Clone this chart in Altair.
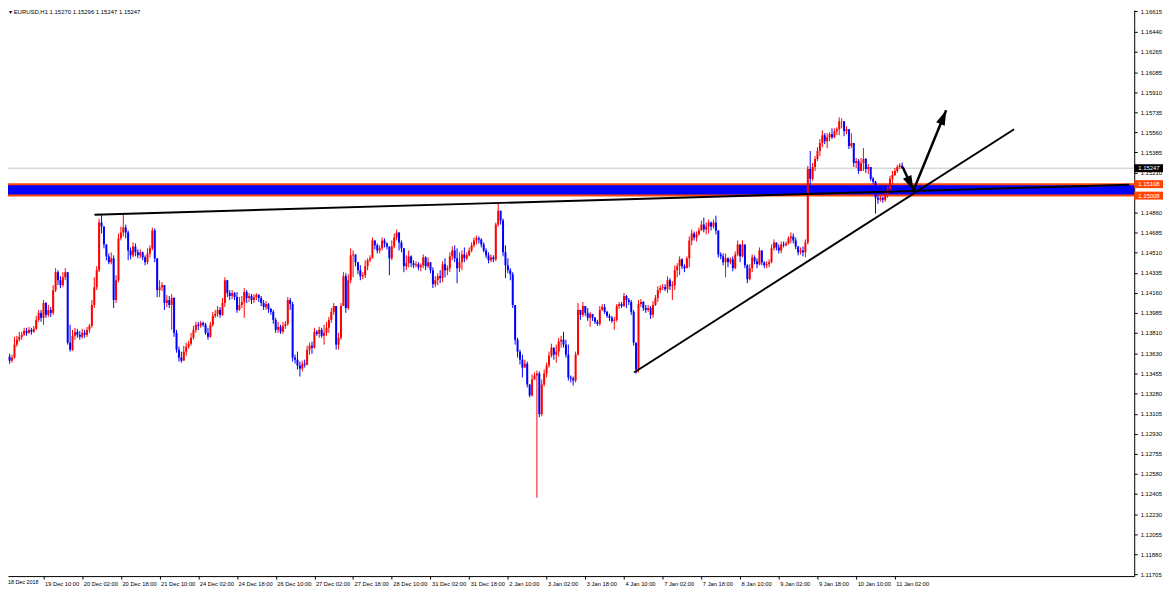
import math
import altair as alt
import pandas as pd

# ---------------- data (EURUSD H1) ----------------
open0 = 1.13725
close = [
 1.13577,1.13603,1.13568,1.13595,1.13708,1.13751,1.13776,1.13794,1.13828,1.13811,  # 0
 1.13837,1.13820,1.13846,1.13924,1.13985,1.13942,1.14071,1.13968,1.14011,1.13985,  # 10
 1.14184,1.14340,1.14270,1.14227,1.14296,1.14340,1.13725,1.13664,1.13785,1.13820,  # 20
 1.13794,1.13776,1.13811,1.13794,1.13837,1.13872,1.14054,1.14209,1.14357,1.14773,  # 30
 1.14738,1.14582,1.14478,1.14427,1.14461,1.14097,1.14270,1.14635,1.14687,1.14729,  # 40
 1.14687,1.14530,1.14487,1.14565,1.14513,1.14487,1.14513,1.14469,1.14427,1.14504,  # 50
 1.14548,1.14704,1.14461,1.14184,1.14209,1.14227,1.14071,1.14097,1.14054,1.14115,  # 60
 1.13811,1.13664,1.13595,1.13568,1.13647,1.13690,1.13716,1.13768,1.13837,1.13881,  # 70
 1.13872,1.13898,1.13881,1.13811,1.13776,1.13881,1.13959,1.13976,1.14011,1.13968,  # 80
 1.14071,1.14270,1.14158,1.14132,1.14158,1.14123,1.14011,1.14054,1.14080,1.14167,  # 90
 1.14115,1.14132,1.14097,1.14123,1.14141,1.14115,1.14071,1.14036,1.14062,1.14019,  # 100
 1.13994,1.13924,1.13837,1.13863,1.13820,1.13872,1.13889,1.14097,1.14062,1.13595,  # 110
 1.13577,1.13525,1.13499,1.13542,1.13534,1.13664,1.13699,1.13682,1.13820,1.13802,  # 120
 1.13837,1.13785,1.13811,1.13855,1.13924,1.13994,1.14045,1.13708,1.13768,1.14045,  # 130
 1.14305,1.14028,1.14270,1.14487,1.14495,1.14427,1.14357,1.14305,1.14314,1.14392,  # 140
 1.14444,1.14461,1.14617,1.14574,1.14530,1.14548,1.14617,1.14591,1.14565,1.14461,  # 150
 1.14565,1.14643,1.14687,1.14600,1.14548,1.14392,1.14418,1.14478,1.14418,1.14400,  # 160
 1.14409,1.14383,1.14400,1.14469,1.14392,1.14427,1.14357,1.14235,1.14270,1.14305,  # 170
 1.14288,1.14409,1.14357,1.14375,1.14478,1.14530,1.14461,1.14375,1.14427,1.14495,  # 180
 1.14461,1.14487,1.14530,1.14574,1.14617,1.14635,1.14626,1.14582,1.14530,1.14487,  # 190
 1.14444,1.14469,1.14452,1.14755,1.14877,1.14790,1.14513,1.14400,1.14357,1.14322,  # 200
 1.14054,1.13751,1.13647,1.13577,1.13508,1.13542,1.13361,1.13265,1.13404,1.13439,  # 210
 1.13456,1.13101,1.13361,1.13456,1.13525,1.13612,1.13682,1.13621,1.13647,1.13734,  # 220
 1.13751,1.13708,1.13621,1.13422,1.13413,1.13395,1.13621,1.14011,1.13968,1.14045,  # 230
 1.13985,1.13942,1.13976,1.13942,1.13907,1.13889,1.14011,1.14036,1.13994,1.13959,  # 240
 1.13942,1.13915,1.13924,1.14045,1.14062,1.14045,1.14132,1.14097,1.14080,1.13994,  # 250
 1.13725,1.13491,1.14062,1.14080,1.14028,1.14011,1.14028,1.13968,1.14054,1.14115,  # 260
 1.14184,1.14201,1.14209,1.14192,1.14270,1.14218,1.14227,1.14357,1.14392,1.14452,  # 270
 1.14392,1.14375,1.14461,1.14617,1.14678,1.14643,1.14669,1.14704,1.14755,1.14712,  # 280
 1.14738,1.14773,1.14738,1.14773,1.14704,1.14495,1.14478,1.14427,1.14461,1.14427,  # 290
 1.14452,1.14375,1.14495,1.14582,1.14478,1.14582,1.14400,1.14279,1.14375,1.14469,  # 300
 1.14435,1.14409,1.14530,1.14427,1.14400,1.14409,1.14427,1.14548,1.14600,1.14556,  # 310
 1.14530,1.14582,1.14574,1.14591,1.14635,1.14652,1.14617,1.14565,1.14513,1.14530,  # 320
 1.14513,1.14600,1.15241,1.15154,1.15258,1.15328,1.15397,1.15466,1.15535,1.15483,  # 330
 1.15518,1.15544,1.15518,1.15570,1.15587,1.15656,1.15656,1.15570,1.15587,1.15440,  # 340
 1.15466,1.15293,1.15310,1.15223,1.15293,1.15328,1.15241,1.15258,1.15154,1.15128,  # 350
 1.14989,1.14972,1.14989,1.14972,1.15024,1.15067,1.15154,1.15188,1.15223,1.15258,  # 360
 1.15270,1.15247,                                                                  # 370
]
high = [
 1.13742,1.13638,1.13629,1.13621,1.13776,1.13785,1.13820,1.13820,1.13855,1.13855,
 1.13863,1.13855,1.13872,1.13959,1.14011,1.14011,1.14097,1.14080,1.14054,1.14036,
 1.14227,1.14375,1.14357,1.14305,1.14340,1.14375,1.14340,1.13881,1.13837,1.13855,
 1.13846,1.13828,1.13846,1.13837,1.13863,1.13889,1.14097,1.14296,1.14392,1.14808,
 1.14842,1.14721,1.14574,1.14504,1.14513,1.14487,1.14314,1.14678,1.14738,1.14851,
 1.14755,1.14704,1.14556,1.14600,1.14591,1.14539,1.14539,1.14521,1.14487,1.14548,
 1.14574,1.14729,1.14721,1.14461,1.14270,1.14253,1.14209,1.14141,1.14132,1.14149,
 1.14123,1.13837,1.13690,1.13647,1.13699,1.13725,1.13742,1.13811,1.13872,1.13907,
 1.13907,1.13915,1.13907,1.13898,1.13855,1.13907,1.13994,1.14011,1.14045,1.14036,
 1.14115,1.14296,1.14270,1.14184,1.14184,1.14167,1.14167,1.14123,1.14132,1.14201,
 1.14184,1.14158,1.14149,1.14149,1.14158,1.14149,1.14132,1.14097,1.14088,1.14071,
 1.14028,1.14011,1.13942,1.13907,1.13881,1.13907,1.13915,1.14123,1.14115,1.14080,
 1.13621,1.13647,1.13560,1.13568,1.13577,1.13699,1.13725,1.13734,1.13855,1.13837,
 1.13863,1.13855,1.13881,1.13907,1.13950,1.14028,1.14071,1.14045,1.13811,1.14071,
 1.14340,1.14331,1.14322,1.14548,1.14530,1.14487,1.14427,1.14400,1.14340,1.14444,
 1.14461,1.14487,1.14643,1.14617,1.14591,1.14574,1.14643,1.14635,1.14600,1.14565,
 1.14617,1.14678,1.14712,1.14687,1.14617,1.14548,1.14487,1.14530,1.14487,1.14444,
 1.14435,1.14427,1.14418,1.14495,1.14478,1.14469,1.14427,1.14383,1.14305,1.14331,
 1.14357,1.14435,1.14461,1.14400,1.14513,1.14565,1.14574,1.14548,1.14513,1.14530,
 1.14556,1.14513,1.14556,1.14600,1.14643,1.14660,1.14652,1.14635,1.14600,1.14548,
 1.14513,1.14495,1.14487,1.14773,1.14937,1.14860,1.14808,1.14574,1.14461,1.14375,
 1.14340,1.14054,1.13768,1.13664,1.13621,1.13577,1.13560,1.13361,1.13448,1.13465,
 1.13482,1.13474,1.13404,1.13491,1.13551,1.13647,1.13716,1.13682,1.13708,1.13768,
 1.13785,1.13820,1.13751,1.13708,1.13439,1.13430,1.13647,1.14071,1.13994,1.14080,
 1.14028,1.14028,1.13994,1.13976,1.13950,1.13924,1.14045,1.14062,1.14062,1.14002,
 1.13976,1.13959,1.13950,1.14062,1.14080,1.14080,1.14158,1.14141,1.14115,1.14097,
 1.14011,1.13725,1.14097,1.14106,1.14088,1.14054,1.14054,1.14045,1.14088,1.14141,
 1.14218,1.14227,1.14235,1.14235,1.14305,1.14288,1.14262,1.14400,1.14418,1.14478,
 1.14461,1.14409,1.14478,1.14652,1.14712,1.14695,1.14695,1.14729,1.14790,1.14816,
 1.14773,1.14799,1.14781,1.14799,1.14833,1.14704,1.14513,1.14504,1.14504,1.14469,
 1.14469,1.14478,1.14521,1.14617,1.14530,1.14617,1.14530,1.14409,1.14409,1.14495,
 1.14487,1.14461,1.14556,1.14530,1.14435,1.14435,1.14452,1.14582,1.14626,1.14600,
 1.14582,1.14608,1.14608,1.14608,1.14652,1.14687,1.14678,1.14643,1.14565,1.14556,
 1.14565,1.14626,1.15267,1.15397,1.15293,1.15353,1.15431,1.15501,1.15578,1.15553,
 1.15553,1.15561,1.15595,1.15595,1.15604,1.15691,1.15682,1.15647,1.15613,1.15587,
 1.15553,1.15440,1.15336,1.15328,1.15336,1.15422,1.15336,1.15284,1.15258,1.15171,
 1.15137,1.15015,1.15015,1.14998,1.15050,1.15093,1.15180,1.15223,1.15249,1.15275,
 1.15290,1.15296,
]
low = [
 1.13534,1.13551,1.13542,1.13551,1.13586,1.13690,1.13734,1.13751,1.13785,1.13785,
 1.13802,1.13794,1.13811,1.13837,1.13907,1.13907,1.13881,1.13942,1.13950,1.13950,
 1.13968,1.14167,1.14227,1.14201,1.14209,1.14270,1.13708,1.13647,1.13655,1.13751,
 1.13768,1.13751,1.13759,1.13768,1.13776,1.13811,1.13855,1.14028,1.14184,1.14340,
 1.14678,1.14548,1.14444,1.14409,1.14409,1.14028,1.14071,1.14253,1.14617,1.14652,
 1.14635,1.14444,1.14452,1.14469,1.14478,1.14461,1.14461,1.14444,1.14400,1.14409,
 1.14469,1.14530,1.14427,1.14123,1.14123,1.14175,1.14011,1.14036,1.14028,1.13837,
 1.13776,1.13638,1.13560,1.13551,1.13577,1.13612,1.13673,1.13699,1.13751,1.13811,
 1.13837,1.13855,1.13863,1.13794,1.13751,1.13768,1.13863,1.13942,1.13950,1.13942,
 1.13959,1.14036,1.14123,1.14097,1.14106,1.14097,1.13985,1.14002,1.14028,1.13942,
 1.14071,1.14080,1.14062,1.14071,1.14097,1.14080,1.14045,1.14011,1.14011,1.13985,
 1.13968,1.13889,1.13811,1.13811,1.13802,1.13802,1.13846,1.13872,1.14011,1.13560,
 1.13542,1.13491,1.13430,1.13474,1.13508,1.13525,1.13621,1.13629,1.13673,1.13785,
 1.13768,1.13768,1.13708,1.13785,1.13811,1.13898,1.13968,1.13664,1.13664,1.13751,
 1.14045,1.13985,1.14011,1.14244,1.14296,1.14392,1.14322,1.14270,1.14279,1.14288,
 1.14357,1.14427,1.14461,1.14539,1.14504,1.14504,1.14530,1.14556,1.14539,1.14314,
 1.14444,1.14548,1.14617,1.14530,1.14513,1.14340,1.14357,1.14383,1.14383,1.14375,
 1.14383,1.14357,1.14348,1.14375,1.14357,1.14375,1.14331,1.14201,1.14209,1.14227,
 1.14244,1.14253,1.14296,1.14314,1.14340,1.14444,1.14427,1.14244,1.14340,1.14357,
 1.14427,1.14444,1.14478,1.14513,1.14556,1.14582,1.14591,1.14556,1.14513,1.14461,
 1.14418,1.14427,1.14427,1.14435,1.14738,1.14755,1.14478,1.14288,1.14331,1.14270,
 1.14028,1.13708,1.13595,1.13534,1.13422,1.13508,1.13335,1.13248,1.13256,1.13404,
 1.12373,1.13075,1.13083,1.13344,1.13422,1.13508,1.13595,1.13577,1.13551,1.13603,
 1.13682,1.13682,1.13595,1.13395,1.13378,1.13352,1.13378,1.13612,1.13924,1.13950,
 1.13959,1.13915,1.13863,1.13915,1.13889,1.13872,1.13872,1.14002,1.13976,1.13942,
 1.13915,1.13898,1.13837,1.13907,1.14019,1.14028,1.14036,1.14028,1.14054,1.13968,
 1.13699,1.13456,1.13465,1.14036,1.14002,1.13985,1.13994,1.13933,1.13942,1.14045,
 1.14080,1.14158,1.14184,1.14175,1.14158,1.14184,1.14097,1.14184,1.14296,1.14314,
 1.14366,1.14340,1.14375,1.14383,1.14574,1.14617,1.14608,1.14660,1.14704,1.14687,
 1.14669,1.14678,1.14704,1.14721,1.14669,1.14469,1.14452,1.14400,1.14296,1.14383,
 1.14409,1.14348,1.14366,1.14478,1.14427,1.14469,1.14375,1.14244,1.14270,1.14340,
 1.14409,1.14375,1.14400,1.14400,1.14375,1.14375,1.14383,1.14418,1.14530,1.14530,
 1.14504,1.14504,1.14556,1.14565,1.14582,1.14591,1.14591,1.14539,1.14487,1.14495,
 1.14478,1.14469,1.14582,1.15094,1.15137,1.15223,1.15310,1.15353,1.15431,1.15457,
 1.15422,1.15483,1.15501,1.15509,1.15535,1.15535,1.15595,1.15526,1.15544,1.15414,
 1.15422,1.15258,1.15249,1.15197,1.15241,1.15223,1.15206,1.15197,1.15137,1.15111,
 1.14851,1.14937,1.14954,1.14946,1.14954,1.14989,1.15033,1.15111,1.15180,1.15206,
 1.15241,1.15247,
]

first_label = "18 Dec 2018"
date_ticks = [16, 32, 48, 64, 80, 96, 112, 128, 144, 160, 176, 192, 208, 224,
              240, 256, 272, 288, 304, 320, 336, 352, 368]
date_labels = ["19 Dec 10:00", "20 Dec 02:00", "20 Dec 18:00", "21 Dec 10:00",
               "24 Dec 02:00", "24 Dec 18:00", "26 Dec 10:00", "27 Dec 02:00",
               "27 Dec 18:00", "28 Dec 10:00", "31 Dec 02:00", "31 Dec 18:00",
               "2 Jan 10:00", "3 Jan 02:00", "3 Jan 18:00", "4 Jan 10:00",
               "7 Jan 02:00", "7 Jan 18:00", "8 Jan 10:00", "9 Jan 02:00",
               "9 Jan 18:00", "10 Jan 10:00", "11 Jan 02:00"]
price_ticks = [1.16615, 1.16440, 1.16265, 1.16085, 1.15910, 1.15735, 1.15560,
               1.15385, 1.15210, 1.14860, 1.14685, 1.14510, 1.14335,
               1.14160, 1.13985, 1.13810, 1.13630, 1.13455, 1.13280, 1.13105,
               1.12930, 1.12755, 1.12580, 1.12405, 1.12230, 1.12055, 1.11880,
               1.11705]

zone_top, zone_bottom = 1.15108, 1.15008
bid_price = 1.15247

# drawn objects: (bar index, price)
resist_bars, resist_prices = [37.1, 464.9], [1.14842, 1.15103]
support_bars, support_prices = [260.2, 417.3], [1.13465, 1.15587]
arrow1_bars, arrow1_prices = [371.2, 375.7], [1.15258, 1.15054]
arrow2_bars, arrow2_prices = [375.7, 389.2], [1.15054, 1.15752]

tag_prices = [1.15247, 1.15108, 1.15008]
tag_texts = ["1.15247", "1.15108", "1.15008"]
tag_colors = ["#000000", "#ff4500", "#ff4500"]

title_text = "\u25be EURUSD,H1  1.15270 1.15296 1.15247 1.15247"

# ---------------- build ----------------
W, H = 1134, 570
X_DOM = [3.378, 464.9]
Y_DOM = [1.11689, 1.16627]
px_bar = W / (X_DOM[1] - X_DOM[0])
px_price = H / (Y_DOM[1] - Y_DOM[0])

n = min(len(close), len(high), len(low))
opens = [open0] + close[: n - 1]
rows = []
for i in range(n):
    o, c = opens[i], close[i]
    rows.append(dict(bar=i, open=o, close=c,
                     high=max(high[i], o, c), low=min(low[i], o, c),
                     dir="up" if c >= o else "down"))
df = pd.DataFrame(rows)

FONT = "Liberation Sans"
xs = alt.Scale(domain=X_DOM, nice=False, zero=False)
ys = alt.Scale(domain=Y_DOM, nice=False, zero=False)

lab_js = "[" + ",".join("'%s'" % s for s in date_labels) + "]"
x_axis = alt.Axis(values=date_ticks,
                  labelExpr=lab_js + "[round((datum.value - 16) / 16)]",
                  title=None, grid=False, domainColor="#000000", tickColor="#000000",
                  tickSize=3, labelFontSize=5.8, labelFont=FONT, labelColor="#000000",
                  labelAlign="left", labelOffset=1, labelPadding=1,
                  labelOverlap=False, labelFlush=False)
y_axis = alt.Axis(orient="right", values=price_ticks, format=".5f", title=None,
                  grid=False, domainColor="#000000", tickColor="#000000", tickSize=3,
                  labelFontSize=6, labelFont=FONT, labelColor="#000000",
                  labelPadding=3, labelOverlap=False, labelFlush=False)


def X(field="bar:Q"):
    return alt.X(field, scale=xs, axis=x_axis)


def Y(field):
    return alt.Y(field, scale=ys, axis=y_axis)


col = alt.Color("dir:N", scale=alt.Scale(domain=["up", "down"],
                                         range=["#ff0000", "#0000ff"]), legend=None)

zone = alt.Chart(pd.DataFrame({"top": [zone_top], "bottom": [zone_bottom]})).mark_rect(
    color="#0000ff").encode(x=alt.value(0), x2=alt.value(W),
                            y=Y("top:Q"), y2="bottom:Q")
zone_lines = alt.Chart(pd.DataFrame({"p": [zone_top, zone_bottom]})).mark_rule(
    color="#ff4500", strokeWidth=2).encode(y=Y("p:Q"))
bid_line = alt.Chart(pd.DataFrame({"p": [bid_price]})).mark_rule(
    color="#c8c8c8", strokeWidth=1).encode(y=Y("p:Q"))

wicks = alt.Chart(df).mark_rule(strokeWidth=1, clip=True).encode(
    x=X(), y=Y("low:Q"), y2="high:Q", color=col)
bodies = alt.Chart(df).mark_bar(size=2, clip=True).encode(
    x=X(), y=Y("open:Q"), y2="close:Q", color=col)

lines_df = pd.DataFrame(
    [dict(line="r", bar=b, price=p) for b, p in zip(resist_bars, resist_prices)] +
    [dict(line="s", bar=b, price=p) for b, p in zip(support_bars, support_prices)])
trend = alt.Chart(lines_df).mark_line(color="#000000", strokeWidth=2, clip=True).encode(
    x=X(), y=Y("price:Q"), detail="line:N")

arr_df = pd.DataFrame(
    [dict(line="a1", bar=b, price=p) for b, p in zip(arrow1_bars, arrow1_prices)] +
    [dict(line="a2", bar=b, price=p) for b, p in zip(arrow2_bars, arrow2_prices)])
shafts = alt.Chart(arr_df).mark_line(color="#000000", strokeWidth=2.5).encode(
    x=X(), y=Y("price:Q"), detail="line:N")

heads = []
for bs, ps in ((arrow1_bars, arrow1_prices), (arrow2_bars, arrow2_prices)):
    dx = (bs[1] - bs[0]) * px_bar
    dy = (ps[1] - ps[0]) * px_price
    ang = math.degrees(math.atan2(dx, dy)) % 360
    heads.append(dict(bar=bs[1], price=ps[1], angle=ang))
heads_c = alt.Chart(pd.DataFrame(heads)).mark_point(
    shape="M0,0L-0.62,2L0.62,2Z", filled=True, color="#000000", opacity=1,
    size=225, strokeWidth=0).encode(
    x=X(), y=Y("price:Q"), angle=alt.Angle("angle:Q", scale=None))

half = 4 / px_price
tags_df = pd.DataFrame({"price": tag_prices, "text": tag_texts, "bg": tag_colors,
                        "lo": [p - half for p in tag_prices],
                        "hi": [p + half for p in tag_prices]})
tag_rects = alt.Chart(tags_df).mark_rect().encode(
    x=alt.value(W), x2=alt.value(W + 29), y=Y("lo:Q"), y2="hi:Q",
    color=alt.Color("bg:N", scale=None))
tag_text = alt.Chart(tags_df).mark_text(
    align="left", baseline="middle", fontSize=6, font=FONT, color="#ffffff").encode(
    x=alt.value(W + 4), y=Y("price:Q"), text="text:N")

title = alt.Chart(pd.DataFrame({"t": [title_text]})).mark_text(
    align="left", baseline="top", fontSize=6, font=FONT, color="#000000").encode(
    x=alt.value(1), y=alt.value(-1), text="t:N")

# first date label of the axis, at the left edge
first_lab = alt.Chart(pd.DataFrame({"t": [first_label]})).mark_text(
    align="left", baseline="top", fontSize=5.4, font=FONT, color="#000000").encode(
    x=alt.value(0), y=alt.value(H + 4), text="t:N")

chart = alt.layer(zone, zone_lines, bid_line, wicks, bodies, trend, shafts, heads_c,
                  tag_rects, tag_text, title, first_lab).properties(
    width=W, height=H, background="#ffffff",
    autosize=alt.AutoSizeParams(type="none"),
    padding={"left": 0, "top": 0, "right": 31, "bottom": 15},
).configure_view(stroke=None)

chart.save("out.html", embed_options={"renderer": "svg", "actions": False})
